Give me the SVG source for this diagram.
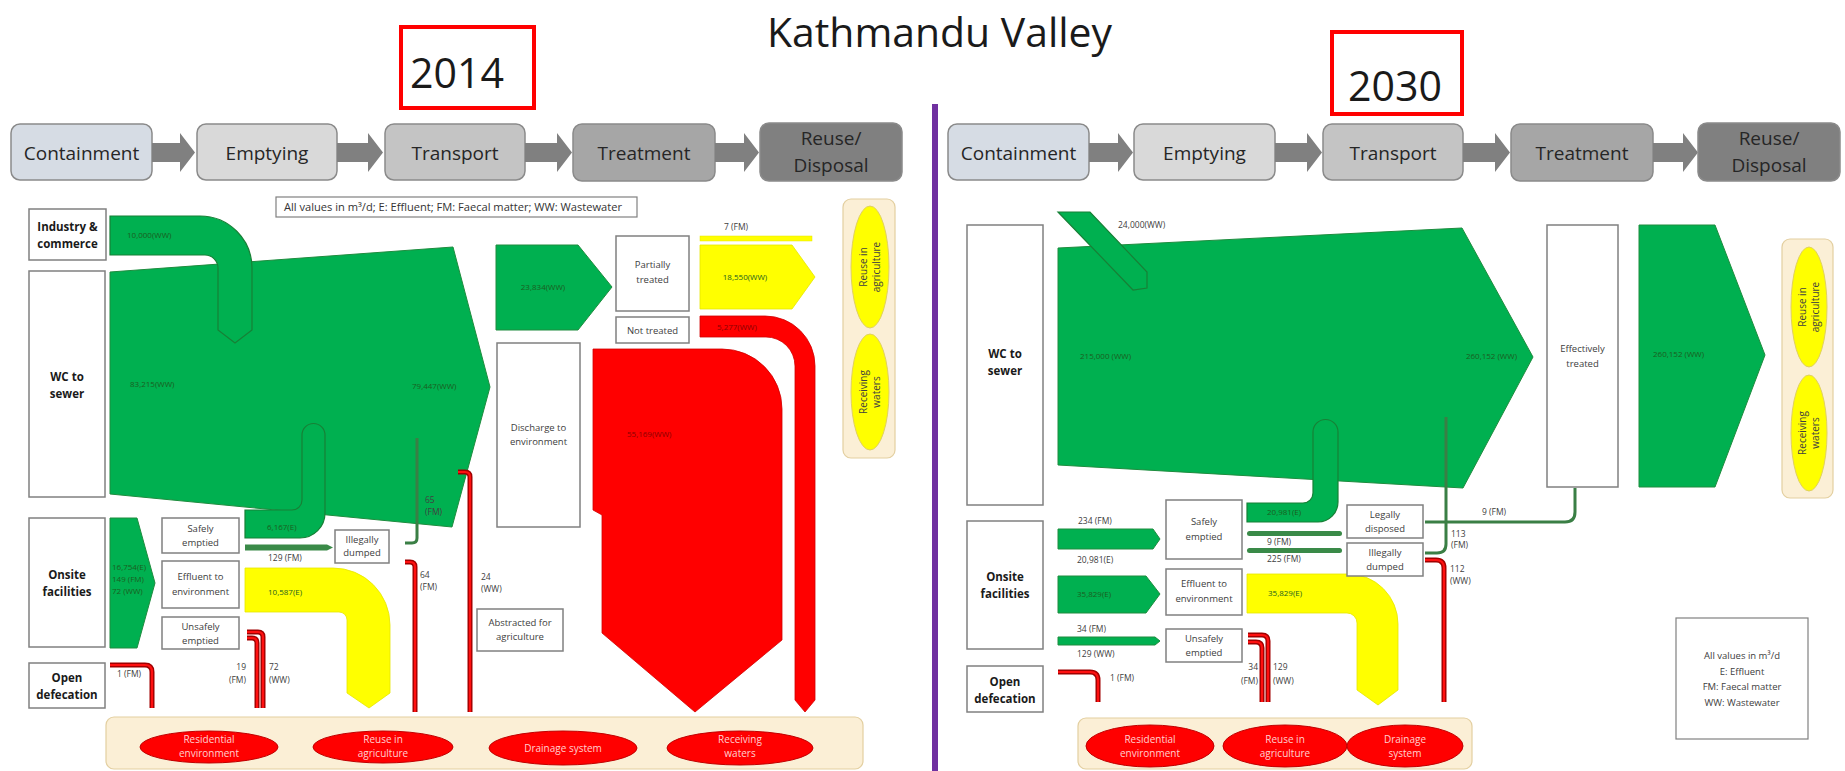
<svg xmlns="http://www.w3.org/2000/svg" width="1845" height="771" viewBox="0 0 1845 771">
<defs>
<style>
.bg{fill:#ffffff}
.stage{stroke:#8a8a8a;stroke-width:1.5}
.st{font-family:"Open Sans","Liberation Sans",sans-serif;font-size:19px;fill:#262626;text-anchor:middle}
.harrow{fill:#808080}
.box{fill:#ffffff;stroke:#808080;stroke-width:1.5}
.nt{font-family:"Open Sans","Liberation Sans",sans-serif;font-size:9.5px;fill:#404040;text-anchor:middle}
.nb{font-family:"Open Sans","Liberation Sans",sans-serif;font-size:11.5px;font-weight:bold;fill:#1a1a1a;text-anchor:middle}
.g{fill:#00B050;stroke:#1e8c3e;stroke-width:1}
.gp{fill:#00B050;stroke:#178036;stroke-width:1.2}
.gbar{fill:#3a8a48}
.gl{fill:none;stroke:#3a7f45;stroke-width:3;stroke-linecap:butt}
.y{fill:#FFFF00;stroke:#e6e600;stroke-width:0.8}
.r{fill:#FF0000;stroke:#d00000;stroke-width:0.8}
.rl1{fill:none;stroke:#a00000;stroke-width:5}
.rl2{fill:none;stroke:#ff1010;stroke-width:2.2}
.fl{font-family:"Open Sans","Liberation Sans",sans-serif;font-size:8px;fill:#1b5e20}
.flr{font-family:"Open Sans","Liberation Sans",sans-serif;font-size:8px;fill:#8b0000}
.gt{font-family:"Open Sans","Liberation Sans",sans-serif;font-size:8.5px;fill:#404040}
.band{fill:#FBEFD6;stroke:#E3CFA0;stroke-width:1.2}
.rell{fill:#FF0000;stroke:#c00000;stroke-width:1}
.et{font-family:"Open Sans","Liberation Sans",sans-serif;font-size:10px;fill:#FFD0D0;text-anchor:middle}
.yell{fill:#FFFF00;stroke:#e0d060;stroke-width:1}
.yt{font-family:"Open Sans","Liberation Sans",sans-serif;font-size:10px;fill:#404040;text-anchor:middle}
.yr{fill:none;stroke:#FF0000;stroke-width:4}
</style>
</defs>
<rect class="bg" x="0" y="0" width="1845" height="771"/>

<!-- Title -->
<g id="title">
<text x="939.5" y="47" font-family="Open Sans, Liberation Sans, sans-serif" font-size="40" fill="#1a1a1a" text-anchor="middle" textLength="345" lengthAdjust="spacingAndGlyphs">Kathmandu Valley</text>
</g>
<g id="year2014">
<rect class="yr" x="401" y="27" width="133" height="81"/>
<text x="457" y="88" font-family="Open Sans, Liberation Sans, sans-serif" font-size="42" fill="#1a1a1a" text-anchor="middle" textLength="94" lengthAdjust="spacingAndGlyphs">2014</text>
</g>
<g id="year2030">
<rect class="yr" x="1332" y="32" width="130" height="82"/>
<text x="1395" y="101" font-family="Open Sans, Liberation Sans, sans-serif" font-size="42" fill="#1a1a1a" text-anchor="middle" textLength="94" lengthAdjust="spacingAndGlyphs">2030</text>
</g>
<g id="divider">
<rect x="932" y="104" width="6" height="667" fill="#7030A0"/>
</g>

<!-- ===================== 2014 ===================== -->
<g id="stages2014">
<g id="s14-containment"><rect class="stage" x="11" y="124" width="141" height="56" rx="9" fill="#D6DCE4"/><text class="st" x="81.5" y="160">Containment</text></g>
<path class="harrow" d="M152,143 H180 V133 L195,152.5 L180,172 V162 H152 Z"/>
<g id="s14-emptying"><rect class="stage" x="197" y="124" width="140" height="56" rx="9" fill="#D9D9D9"/><text class="st" x="267" y="160">Emptying</text></g>
<path class="harrow" d="M337,143 H368 V133 L383,152.5 L368,172 V162 H337 Z"/>
<g id="s14-transport"><rect class="stage" x="385" y="124" width="140" height="56" rx="9" fill="#C4C4C4"/><text class="st" x="455" y="160">Transport</text></g>
<path class="harrow" d="M525,143 H557 V133 L572,152.5 L557,172 V162 H525 Z"/>
<g id="s14-treatment"><rect class="stage" x="573" y="124" width="142" height="57" rx="9" fill="#A6A6A6"/><text class="st" x="644" y="160">Treatment</text></g>
<path class="harrow" d="M715,143 H744 V133 L759,152.5 L744,172 V162 H715 Z"/>
<g id="s14-reuse"><rect class="stage" x="760" y="123" width="142" height="58" rx="9" fill="#808080"/><text class="st" x="831" y="145">Reuse/</text><text class="st" x="831" y="172">Disposal</text></g>
</g>

<g id="legend2014">
<rect x="276" y="197" width="361" height="20" fill="#fff" stroke="#808080" stroke-width="1.2"/>
<text x="284" y="211" font-family="Open Sans, Liberation Sans, sans-serif" font-size="10.5" fill="#333" textLength="338" lengthAdjust="spacingAndGlyphs">All values in m³/d; E: Effluent; FM: Faecal matter; WW: Wastewater</text>
</g>

<g id="connectors2014">
<!-- big WC to sewer flow -->
<path class="g" d="M110,272 L453,247 L490,387 L452,527 L110,494 Z"/>
<!-- industry flow -->
<path class="gp" d="M110,216 H200 A52,52 0 0 1 252,268 V330 L235,343 L218,330 V268 A13,13 0 0 0 205,255 H110 Z"/>
<!-- safely emptied to sewer -->
<path class="gp" d="M245,538 H300 A25,25 0 0 0 325,513 V435 A11.5,11.5 0 0 0 302,435 V500 A10,10 0 0 1 292,510 H245 Z"/>
<!-- 129 FM -->
<path class="gbar" d="M245,544.5 H327 L333,547.5 L327,550.5 H245 Z"/>
<!-- 65 FM -->
<path class="gl" d="M417,438 V538 Q417,543 412,543 H405"/>
<!-- onsite arrow -->
<path class="g" d="M110,518 H137 L155,583 L137,648 H110 Z"/>
<!-- effluent yellow -->
<path class="y" d="M245,568 H333 A57,57 0 0 1 390,625 V693 L369,708 L347,693 V620 A8,8 0 0 0 339,612 H245 Z"/>
<!-- red lines -->
<path class="rl1" d="M110,665 H145 Q152,665 152,672 V708"/>
<path class="rl2" d="M110,665 H145 Q152,665 152,672 V708"/>
<path class="rl1" d="M247,632 H258 Q263,632 263,637 V708"/>
<path class="rl2" d="M247,632 H258 Q263,632 263,637 V708"/>
<path class="rl1" d="M247,638 H252 Q257,638 257,643 V708"/>
<path class="rl2" d="M247,638 H252 Q257,638 257,643 V708"/>
<path class="rl1" d="M405,562 H410 Q415,562 415,567 V712"/>
<path class="rl2" d="M405,562 H410 Q415,562 415,567 V712"/>
<path class="rl1" d="M458,472 H465 Q470,472 470,477 V712"/>
<path class="rl2" d="M458,472 H465 Q470,472 470,477 V712"/>
<!-- 23,834 -->
<path class="g" d="M496,245 H578 L612,287 L578,330 H496 Z"/>
<!-- 7 FM -->
<rect x="700" y="236" width="112" height="5" fill="#FFFF00" stroke="#e6e600" stroke-width="0.5"/>
<!-- 18,550 -->
<path class="y" d="M700,245 H792 L815,277 L792,309 H700 Z"/>
<!-- 5,277 -->
<path class="r" d="M700,316 H765 A50,50 0 0 1 815,366 V700 L805,712 L795,700 V366 A29,29 0 0 0 766,337 H700 Z"/>
<!-- 55,169 -->
<path class="r" d="M593,349 H722 A60,60 0 0 1 782,409 V640 L695,712 L602,633 V515 L593,510 Z"/>
</g>

<g id="flowlabels2014">
<text class="fl" x="127" y="238">10,000(WW)</text>
<text class="fl" x="130" y="387">83,215(WW)</text>
<text class="fl" x="412" y="389">79,447(WW)</text>
<text class="fl" x="267" y="530">6,167(E)</text>
<text class="gt" x="268" y="561">129 (FM)</text>
<text class="gt" x="425" y="503">65</text>
<text class="gt" x="425" y="515">(FM)</text>
<text class="gt" x="420" y="578">64</text>
<text class="gt" x="420" y="590">(FM)</text>
<text class="gt" x="481" y="580">24</text>
<text class="gt" x="481" y="592">(WW)</text>
<text class="fl" x="112" y="570">16,754(E)</text>
<text class="fl" x="112" y="582">149 (FM)</text>
<text class="fl" x="112" y="594">72 (WW)</text>
<text class="fl" x="268" y="595">10,587(E)</text>
<text class="gt" x="117" y="677">1 (FM)</text>
<text class="gt" x="246" y="670" text-anchor="end">19</text>
<text class="gt" x="246" y="683" text-anchor="end">(FM)</text>
<text class="gt" x="269" y="670">72</text>
<text class="gt" x="269" y="683">(WW)</text>
<text class="fl" x="543" y="290" text-anchor="middle">23,834(WW)</text>
<text class="gt" x="724" y="230">7 (FM)</text>
<text class="fl" x="745" y="280" text-anchor="middle">18,550(WW)</text>
<text class="flr" x="717" y="330">5,277(WW)</text>
<text class="flr" x="627" y="437">55,169(WW)</text>
</g>

<g id="n14-industry"><rect class="box" x="29" y="209" width="77" height="51"/><text class="nb" x="67.5" y="231">Industry &amp;</text><text class="nb" x="67.5" y="248">commerce</text></g>
<g id="n14-wc"><rect class="box" x="29" y="271" width="76" height="226"/><text class="nb" x="67" y="381">WC to</text><text class="nb" x="67" y="398">sewer</text></g>
<g id="n14-onsite"><rect class="box" x="29" y="518" width="76" height="129"/><text class="nb" x="67" y="579">Onsite</text><text class="nb" x="67" y="596">facilities</text></g>
<g id="n14-open"><rect class="box" x="29" y="663" width="76" height="45"/><text class="nb" x="67" y="682">Open</text><text class="nb" x="67" y="699">defecation</text></g>
<g id="n14-safely"><rect class="box" x="162" y="518" width="77" height="35"/><text class="nt" x="200.5" y="532">Safely</text><text class="nt" x="200.5" y="546">emptied</text></g>
<g id="n14-effluent"><rect class="box" x="162" y="561" width="77" height="47"/><text class="nt" x="200.5" y="580">Effluent to</text><text class="nt" x="200.5" y="595">environment</text></g>
<g id="n14-unsafely"><rect class="box" x="162" y="617" width="77" height="32"/><text class="nt" x="200.5" y="630">Unsafely</text><text class="nt" x="200.5" y="644">emptied</text></g>
<g id="n14-illegal"><rect class="box" x="335" y="530" width="54" height="33"/><text class="nt" x="362" y="543">Illegally</text><text class="nt" x="362" y="556">dumped</text></g>
<g id="n14-discharge"><rect class="box" x="497" y="343" width="83" height="184"/><text class="nt" x="538.5" y="431">Discharge to</text><text class="nt" x="538.5" y="445">environment</text></g>
<g id="n14-abstracted"><rect class="box" x="477" y="609" width="86" height="42"/><text class="nt" x="520" y="626">Abstracted for</text><text class="nt" x="520" y="640">agriculture</text></g>
<g id="n14-partial"><rect class="box" x="616" y="236" width="73" height="75"/><text class="nt" x="652.5" y="268">Partially</text><text class="nt" x="652.5" y="283">treated</text></g>
<g id="n14-nottreated"><rect class="box" x="616" y="317" width="73" height="26"/><text class="nt" x="652.5" y="334">Not treated</text></g>

<g id="n14-enduse">
<rect class="band" x="843" y="199" width="52" height="259" rx="8"/>
<ellipse class="yell" cx="870" cy="267" rx="19" ry="61"/>
<text class="yt" transform="translate(867,267) rotate(-90)">Reuse in</text>
<text class="yt" transform="translate(880,267) rotate(-90)">agriculture</text>
<ellipse class="yell" cx="870" cy="392" rx="19" ry="58"/>
<text class="yt" transform="translate(867,392) rotate(-90)">Receiving</text>
<text class="yt" transform="translate(880,392) rotate(-90)">waters</text>
</g>

<g id="n14-bottom">
<rect class="band" x="106" y="717" width="757" height="52" rx="8"/>
<ellipse class="rell" cx="209" cy="747" rx="69" ry="16"/>
<text class="et" x="209" y="743">Residential</text><text class="et" x="209" y="757">environment</text>
<ellipse class="rell" cx="383" cy="747" rx="70" ry="16"/>
<text class="et" x="383" y="743">Reuse in</text><text class="et" x="383" y="757">agriculture</text>
<ellipse class="rell" cx="563" cy="748" rx="74" ry="17"/>
<text class="et" x="563" y="752">Drainage system</text>
<ellipse class="rell" cx="740" cy="748" rx="73" ry="17"/>
<text class="et" x="740" y="743">Receiving</text><text class="et" x="740" y="757">waters</text>
</g>

<!-- ===================== 2030 ===================== -->
<g id="stages2030">
<g id="s30-containment"><rect class="stage" x="948" y="124" width="141" height="56" rx="9" fill="#D6DCE4"/><text class="st" x="1018.5" y="160">Containment</text></g>
<path class="harrow" d="M1089,143 H1118 V133 L1133,152.5 L1118,172 V162 H1089 Z"/>
<g id="s30-emptying"><rect class="stage" x="1134" y="124" width="141" height="56" rx="9" fill="#D9D9D9"/><text class="st" x="1204.5" y="160">Emptying</text></g>
<path class="harrow" d="M1275,143 H1307 V133 L1322,152.5 L1307,172 V162 H1275 Z"/>
<g id="s30-transport"><rect class="stage" x="1323" y="124" width="140" height="56" rx="9" fill="#C4C4C4"/><text class="st" x="1393" y="160">Transport</text></g>
<path class="harrow" d="M1463,143 H1495 V133 L1510,152.5 L1495,172 V162 H1463 Z"/>
<g id="s30-treatment"><rect class="stage" x="1511" y="124" width="142" height="57" rx="9" fill="#A6A6A6"/><text class="st" x="1582" y="160">Treatment</text></g>
<path class="harrow" d="M1653,143 H1683 V133 L1698,152.5 L1683,172 V162 H1653 Z"/>
<g id="s30-reuse"><rect class="stage" x="1698" y="123" width="142" height="58" rx="9" fill="#808080"/><text class="st" x="1769" y="145">Reuse/</text><text class="st" x="1769" y="172">Disposal</text></g>
</g>

<g id="connectors2030">
<path class="g" d="M1058,248 L1462,228 L1533,357 L1463,488 L1058,465 Z"/>
<path class="gp" d="M1058,212 H1090 L1147,272 V288 L1133,290 Z"/>
<path class="gp" d="M1247,522 H1318 A20,20 0 0 0 1338,502 V432 A12.5,12.5 0 0 0 1313,432 V493 A10,10 0 0 1 1303,503 H1247 Z"/>
<rect class="gbar" x="1247" y="531" width="95" height="5" rx="2.5"/>
<rect class="gbar" x="1247" y="548" width="95" height="5" rx="2.5"/>
<path class="gl" d="M1425,522 H1565 Q1575,522 1575,512 V488"/>
<path class="gl" d="M1425,553 H1437 Q1446,553 1446,544 V417"/>
<path class="rl1" d="M1425,560 H1436 Q1444,560 1444,568 V702"/>
<path class="rl2" d="M1425,560 H1436 Q1444,560 1444,568 V702"/>
<path class="g" d="M1639,225 H1715 L1765,355 L1715,487 H1639 Z"/>
<path class="g" d="M1058,529 H1153 L1160,539 L1153,549 H1058 Z"/>
<path class="g" d="M1058,576 H1146 L1160,594 L1146,613 H1058 Z"/>
<path class="g" d="M1058,637 H1155 L1160,641 L1155,645 H1058 Z"/>
<path class="y" d="M1247,574 H1348 A50,50 0 0 1 1398,624 V690 L1378,705 L1357,690 V623 A10,10 0 0 0 1347,613 H1247 Z"/>
<path class="rl1" d="M1058,672 H1090 Q1098,672 1098,680 V702"/>
<path class="rl2" d="M1058,672 H1090 Q1098,672 1098,680 V702"/>
<path class="rl1" d="M1248,635 H1262 Q1268,635 1268,641 V702"/>
<path class="rl2" d="M1248,635 H1262 Q1268,635 1268,641 V702"/>
<path class="rl1" d="M1248,642 H1256 Q1262,642 1262,648 V702"/>
<path class="rl2" d="M1248,642 H1256 Q1262,642 1262,648 V702"/>
</g>

<g id="flowlabels2030">
<text class="gt" x="1118" y="228">24,000(WW)</text>
<text class="fl" x="1080" y="359">215,000 (WW)</text>
<text class="fl" x="1517" y="359" text-anchor="end">260,152 (WW)</text>
<text class="fl" x="1653" y="357">260,152 (WW)</text>
<text class="fl" x="1267" y="515">20,981(E)</text>
<text class="gt" x="1267" y="545">9 (FM)</text>
<text class="gt" x="1267" y="562">225 (FM)</text>
<text class="fl" x="1268" y="596">35,829(E)</text>
<text class="gt" x="1482" y="515">9 (FM)</text>
<text class="gt" x="1451" y="537">113</text>
<text class="gt" x="1451" y="548">(FM)</text>
<text class="gt" x="1450" y="572">112</text>
<text class="gt" x="1450" y="584">(WW)</text>
<text class="gt" x="1078" y="524">234 (FM)</text>
<text class="gt" x="1077" y="563">20,981(E)</text>
<text class="fl" x="1077" y="597">35,829(E)</text>
<text class="gt" x="1077" y="632">34 (FM)</text>
<text class="gt" x="1077" y="657">129 (WW)</text>
<text class="gt" x="1110" y="681">1 (FM)</text>
<text class="gt" x="1258" y="670" text-anchor="end">34</text>
<text class="gt" x="1258" y="684" text-anchor="end">(FM)</text>
<text class="gt" x="1273" y="670">129</text>
<text class="gt" x="1273" y="684">(WW)</text>
</g>

<g id="n30-wc"><rect class="box" x="967" y="225" width="76" height="280"/><text class="nb" x="1005" y="358">WC to</text><text class="nb" x="1005" y="375">sewer</text></g>
<g id="n30-onsite"><rect class="box" x="967" y="521" width="76" height="128"/><text class="nb" x="1005" y="581">Onsite</text><text class="nb" x="1005" y="598">facilities</text></g>
<g id="n30-open"><rect class="box" x="967" y="666" width="76" height="46"/><text class="nb" x="1005" y="686">Open</text><text class="nb" x="1005" y="703">defecation</text></g>
<g id="n30-safely"><rect class="box" x="1166" y="500" width="76" height="59"/><text class="nt" x="1204" y="525">Safely</text><text class="nt" x="1204" y="540">emptied</text></g>
<g id="n30-effluent"><rect class="box" x="1166" y="569" width="76" height="46"/><text class="nt" x="1204" y="587">Effluent to</text><text class="nt" x="1204" y="602">environment</text></g>
<g id="n30-unsafely"><rect class="box" x="1166" y="629" width="76" height="33"/><text class="nt" x="1204" y="642">Unsafely</text><text class="nt" x="1204" y="656">emptied</text></g>
<g id="n30-legal"><rect class="box" x="1347" y="505" width="76" height="33"/><text class="nt" x="1385" y="518">Legally</text><text class="nt" x="1385" y="532">disposed</text></g>
<g id="n30-illegal"><rect class="box" x="1347" y="543" width="76" height="33"/><text class="nt" x="1385" y="556">Illegally</text><text class="nt" x="1385" y="570">dumped</text></g>
<g id="n30-effective"><rect class="box" x="1547" y="225" width="71" height="262"/><text class="nt" x="1582.5" y="352">Effectively</text><text class="nt" x="1582.5" y="367">treated</text></g>

<g id="n30-enduse">
<rect class="band" x="1782" y="239" width="51" height="259" rx="8"/>
<ellipse class="yell" cx="1809" cy="307" rx="18" ry="60"/>
<text class="yt" transform="translate(1806,307) rotate(-90)">Reuse in</text>
<text class="yt" transform="translate(1819,307) rotate(-90)">agriculture</text>
<ellipse class="yell" cx="1809" cy="433" rx="18" ry="58"/>
<text class="yt" transform="translate(1806,433) rotate(-90)">Receiving</text>
<text class="yt" transform="translate(1819,433) rotate(-90)">waters</text>
</g>

<g id="n30-bottom">
<rect class="band" x="1078" y="718" width="394" height="51" rx="8"/>
<ellipse class="rell" cx="1150" cy="746" rx="64" ry="21"/>
<text class="et" x="1150" y="743">Residential</text><text class="et" x="1150" y="757">environment</text>
<ellipse class="rell" cx="1285" cy="746" rx="62" ry="21"/>
<text class="et" x="1285" y="743">Reuse in</text><text class="et" x="1285" y="757">agriculture</text>
<ellipse class="rell" cx="1405" cy="746" rx="58" ry="21"/>
<text class="et" x="1405" y="743">Drainage</text><text class="et" x="1405" y="757">system</text>
</g>

<g id="legend2030">
<rect x="1676" y="618" width="132" height="121" fill="#fff" stroke="#808080" stroke-width="1.2"/>
<text class="nt" x="1742" y="659">All values in m³/d</text>
<text class="nt" x="1742" y="675">E: Effluent</text>
<text class="nt" x="1742" y="690">FM: Faecal matter</text>
<text class="nt" x="1742" y="706">WW: Wastewater</text>
</g>
</svg>
